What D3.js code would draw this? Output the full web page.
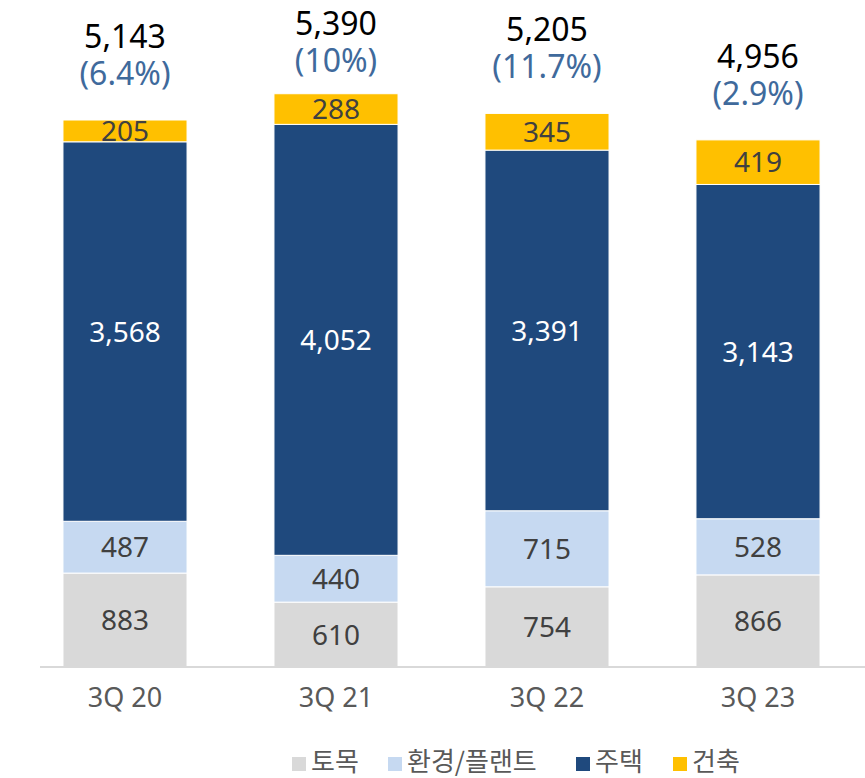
<!DOCTYPE html>
<html><head><meta charset="utf-8">
<script src="https://cdn.jsdelivr.net/npm/d3@7"></script>
<style>body{margin:0;background:#fff}svg{display:block;font-family:"Noto Sans","Noto Sans CJK KR",sans-serif}</style>
</head><body><svg id="c" width="865" height="778"></svg>
<script>
const categories = ["3Q 20","3Q 21","3Q 22","3Q 23"];
const seriesNames = ["토목","환경/플랜트","주택","건축"];
const civil = [883,610,754,866];
const plant = [487,440,715,528];
const housing = [3568,4052,3391,3143];
const building = [205,288,345,419];
const totals = [5143,5390,5205,4956];
const growth = ["(6.4%)","(10%)","(11.7%)","(2.9%)"];
const colors = ["#d9d9d9","#c6d9f1","#1f497d","#ffc000"];
const labelColors = ["#404040","#404040","#ffffff","#404040"];

const svg = d3.select("#c");
const series = [civil, plant, housing, building];
const rows = categories.map((c,i)=>{const o={cat:c}; seriesNames.forEach((s,k)=>o[s]=series[k][i]); return o;});
const stack = d3.stack().keys(seriesNames)(rows);

const x = d3.scaleBand().domain(categories).range([19.5,863.5]).paddingInner(0.412).paddingOuter(0.206);
const y = d3.scaleLinear().domain([0,5143]).range([667,120]);

const g = svg.append("g");
stack.forEach((layer,k)=>{
  g.selectAll(null).data(layer).enter().append("rect")
    .attr("x",d=>x(d.data.cat)).attr("width",x.bandwidth())
    .attr("y",d=>y(d[1])).attr("height",d=>y(d[0])-y(d[1]))
    .attr("fill",colors[k]).attr("stroke","#fff").attr("stroke-width",1);
  g.selectAll(null).data(layer).enter().append("text")
    .attr("x",d=>x(d.data.cat)+x.bandwidth()/2)
    .attr("y",d=>(y(d[0])+y(d[1]))/2)
    .attr("dy","0.36em").attr("text-anchor","middle")
    .attr("font-size",28).attr("fill",labelColors[k])
    .text(d=>d3.format(",")(d[1]-d[0]));
});

svg.append("line").attr("x1",40).attr("x2",865).attr("y1",667).attr("y2",667)
  .attr("stroke","#d9d9d9").attr("stroke-width",2);

categories.forEach((c,i)=>{
  const cx = x(c)+x.bandwidth()/2, top = y(totals[i]);
  const pb = Math.max(top-35, 72);
  svg.append("text").attr("x",cx).attr("y",pb-37).attr("text-anchor","middle")
    .attr("font-size",32).attr("fill","#000").text(d3.format(",")(totals[i]));
  svg.append("text").attr("x",cx).attr("y",pb).attr("text-anchor","middle")
    .attr("font-size",32).attr("fill","#3f6a9c").text(growth[i]);
});

const xAxis = svg.append("g").attr("transform","translate(0,667)")
  .call(d3.axisBottom(x).tickSize(0).tickPadding(21));
xAxis.select(".domain").remove();
xAxis.selectAll("text").attr("font-size",27).attr("fill","#595959")
  .attr("font-family","'Noto Sans','Noto Sans CJK KR',sans-serif");

const legendX = [292,388,576,673];
const leg = svg.append("g").attr("font-family","'Noto Sans CJK KR',sans-serif");
seriesNames.forEach((s,k)=>{
  leg.append("rect").attr("x",legendX[k]).attr("y",757).attr("width",14).attr("height",14).attr("fill",colors[k]);
  leg.append("text").attr("x",legendX[k]+19).attr("y",771).attr("font-size",26).attr("fill","#595959").text(s);
});
</script></body></html>
